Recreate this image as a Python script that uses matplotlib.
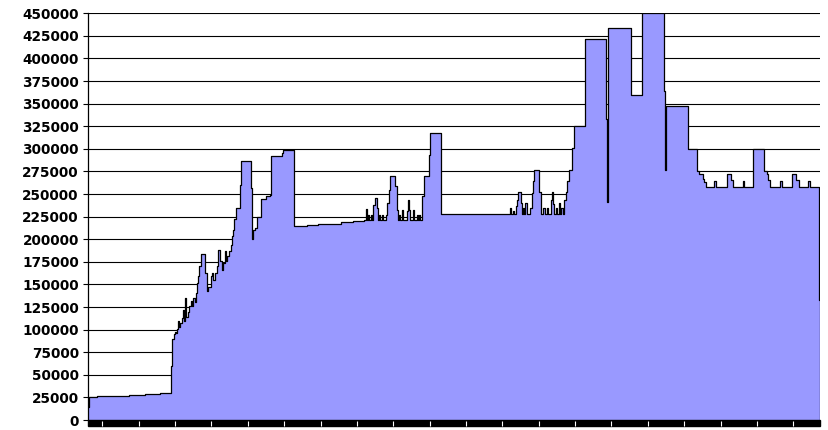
import numpy as np
import matplotlib.pyplot as plt
from matplotlib.patches import Rectangle
import matplotlib.transforms as mtransforms

# sample position along the series and the value (thousands) that holds from there on
t = [0.0, 0.8, 8.7, 24.7, 41.3, 57.0, 72.0, 83.3, 84.3, 85.7,
     87.0, 88.0, 88.7, 90.3, 91.0, 92.0, 93.7, 95.0, 96.0, 97.3,
     98.0, 99.7, 101.3, 103.0, 104.0, 105.3, 106.7, 107.7, 109.3, 110.3,
     111.5, 112.7, 117.3, 118.7, 120.3, 122.7, 124.0, 125.3, 127.0, 128.7,
     130.3, 132.0, 133.7, 135.3, 137.0, 138.0, 139.3, 141.0, 142.7, 144.0,
     145.3, 146.3, 147.7, 151.7, 152.7, 162.7, 164.0, 165.5, 167.0, 169.3,
     173.0, 177.7, 182.0, 183.0, 193.7, 194.7, 205.7, 206.5, 218.7, 230.3,
     252.7, 265.3, 276.0, 278.0, 279.0, 280.3, 281.3, 282.7, 283.7, 285.3,
     287.0, 288.7, 289.7, 291.3, 292.0, 293.7, 294.7, 298.0, 299.3, 301.0,
     302.0, 307.3, 308.7, 309.7, 311.0, 312.0, 313.7, 314.7, 318.7, 320.3,
     321.3, 322.3, 325.3, 326.3, 328.7, 329.7, 331.3, 332.0, 333.7, 336.0,
     340.7, 342.5, 352.7, 422.3, 423.3, 425.3, 426.3, 427.7, 429.3, 430.3,
     432.7, 434.0, 435.3, 436.3, 437.3, 438.7, 442.0, 443.7, 444.7, 446.3,
     451.5, 453.0, 455.3, 457.0, 458.7, 460.3, 463.0, 464.3, 465.3, 466.3,
     468.0, 469.3, 470.7, 472.0, 473.3, 474.7, 476.0, 477.7, 479.3, 480.7,
     484.3, 485.7, 496.7, 497.3, 518.3, 519.0, 519.7, 542.7, 543.5, 553.7,
     554.5, 576.3, 577.0, 577.7, 599.7, 609.5, 611.3, 614.7, 616.3, 618.0,
     626.0, 627.7, 638.7, 642.7, 645.3, 654.7, 656.0, 665.3, 675.7, 678.7,
     680.3, 682.0, 692.0, 693.7, 703.7, 708.5, 711.3, 720.3, 722.0, 731.5,
     732.0]
v = [14, 25.1, 26.2, 26.9, 27.7, 28.5, 29.9, 60, 89.4, 95.3,
     97.9, 96.0, 100.5, 109.0, 103.0, 107.0, 112.7, 121.9, 109.0, 134.9,
     114.5, 120.0, 125.6, 131.9, 125.6, 134.9, 131.0, 140.4, 151.5, 158.8,
     170.0, 184.0, 162.6, 142.2, 147.7, 158.8, 163.2, 155.2, 162.6, 169.9,
     188.4, 175.5, 166.3, 173.7, 186.6, 175.5, 181.8, 186.6, 194.0, 203.9,
     210.6, 222.5, 234.6, 260.5, 286.3, 256.8, 200.3, 210.6, 212.5, 224.2,
     244.6, 247.5, 249.4, 291.9, 295.6, 298.5, 255.7, 215.0, 216.1, 217.2,
     218.7, 219.8, 220.9, 233.5, 221.7, 227.2, 221.7, 227.2, 221.7, 238.3,
     245.7, 234.6, 221.7, 227.2, 221.7, 227.2, 221.7, 227.2, 240.2, 254.9,
     269.7, 258.6, 232.8, 221.7, 227.2, 221.7, 232.8, 221.7, 230.9, 243.8,
     232.8, 221.7, 232.8, 221.7, 227.2, 221.7, 227.2, 221.7, 247.5, 269.7,
     293.7, 317.8, 228.0, 234.6, 228.0, 230.9, 228.0, 236.4, 243.8, 251.9,
     240.2, 228.0, 234.6, 228.0, 240.2, 228.0, 234.6, 251.2, 264.2, 277.1,
     251.9, 228.0, 234.6, 228.0, 234.6, 228.0, 243.8, 251.9, 239.1, 228.0,
     234.6, 228.0, 240.2, 228.0, 234.6, 228.0, 243.8, 251.9, 264.2, 276.3,
     301.1, 325.1, 373.2, 422.0, 332.5, 240.9, 434.1, 397.1, 359.5, 406.4,
     450.0, 363.9, 277.1, 347.3, 300.0, 275.2, 272.7, 267.1, 263.0, 257.9,
     264.2, 257.9, 272.7, 266.0, 257.9, 264.2, 257.9, 300.0, 275.2, 272.7,
     266.0, 257.9, 264.2, 257.9, 272.7, 266.0, 257.9, 264.2, 257.9, 133.0,
     133.0]

x = np.array(t)
y = np.array(v) * 1000
yticks = np.arange(0, 450001, 25000)

fig = plt.figure(figsize=(8.29, 4.30), dpi=100)
ax = fig.add_axes([88/829, 10/430, 732/829, 406.7/430])

ax.fill_between(x, y, step='post', color='#9999FF', lw=0, zorder=2)
ax.step(x, y, where='post', color='black', lw=0.9, zorder=3)
ax.vlines(x[-1], 0, y[-1], color='black', lw=0.9, zorder=3)

ax.set_xlim(0, 732)
ax.set_ylim(0, 450000)
ax.set_yticks(yticks)
ax.set_yticklabels([str(k) for k in yticks], fontweight='bold')
ax.set_xticks([])
ax.grid(axis='y', color='black', lw=0.8)
ax.set_axisbelow(True)
for s in ['top', 'right', 'bottom']:
    ax.spines[s].set_visible(False)
ax.spines['left'].set_linewidth(0.9)
ax.tick_params(axis='y', length=3.6, width=0.8, pad=3, labelsize=9.8)

# dense category tick band under the axis, white gaps where Excel skips
band = 6 / 406.7
ax.add_patch(Rectangle((0, -band), 1, band, transform=ax.transAxes,
                       color='black', clip_on=False, zorder=4))
trans = mtransforms.blended_transform_factory(ax.transData, ax.transAxes)
gaps = np.arange(14.3, 732, 36.37)
ax.vlines(gaps, -band, -band * 0.15, transform=trans, color='white',
          lw=0.8, clip_on=False, zorder=5)

fig.savefig('out.png', dpi=100)
